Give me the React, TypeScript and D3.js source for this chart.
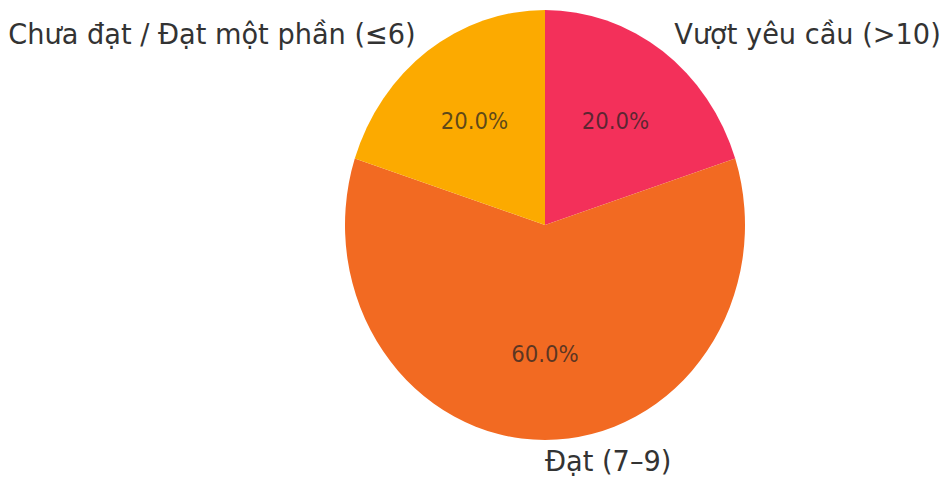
import React from "react";
import * as d3 from "d3";

const categories = ["Vượt yêu cầu (>10)", "Đạt (7–9)", "Chưa đạt / Đạt một phần (≤6)"];
const values = [20, 60, 20];
const colors = ["#F3305A", "#F26A22", "#FCAA00"];

const W = 942;
const H = 477;
const CX = 545;
const CY = 225;
const R = 200;
const SY = 1.075;

export default function App() {
  const total = d3.sum(values);
  const pie = d3.pie<number>().sort(null).value((d) => d).startAngle(0).endAngle(2 * Math.PI);
  const arcs = pie(values);
  const arc = d3.arc<d3.PieArcDatum<number>>().innerRadius(0).outerRadius(R);
  const font = "'DejaVu Sans', sans-serif";
  return (
    <svg width={W} height={H} style={{ position: "absolute", left: 0, top: 0, background: "#fff" }}>
      <g transform={`translate(${CX},${CY}) scale(1,${SY})`}>
        {arcs.map((a, i) => (
          <path key={i} d={arc(a) || ""} fill={colors[i]} />
        ))}
        {arcs.map((a, i) => {
          const mid = (a.startAngle + a.endAngle) / 2;
          const lx = 1.1 * R * Math.sin(mid);
          const ly = -1.1 * R * Math.cos(mid);
          const px = 0.6 * R * Math.sin(mid);
          const py = -0.6 * R * Math.cos(mid);
          const anchor = lx >= -1e-6 ? "start" : "end";
          return (
            <g key={"t" + i}>
              <text x={lx} y={ly} textAnchor={anchor} dominantBaseline="central" fontFamily={font} fontSize={27.2} fill="#333">
                {categories[i]}
              </text>
              <text x={px} y={py} textAnchor="middle" dominantBaseline="central" fontFamily={font} fontSize={21.3} fill="#222" fillOpacity={0.72}>
                {((values[i] / total) * 100).toFixed(1) + "%"}
              </text>
            </g>
          );
        })}
      </g>
    </svg>
  );
}
